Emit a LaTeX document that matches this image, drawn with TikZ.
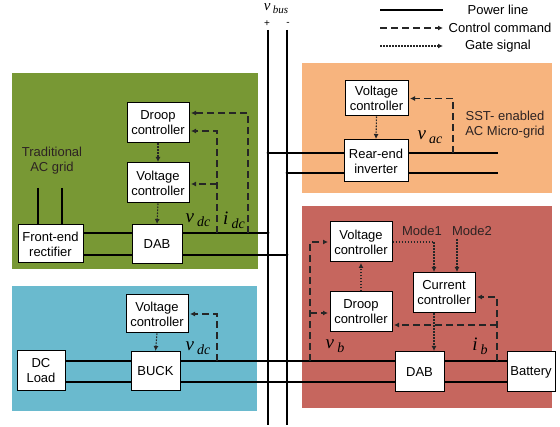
\documentclass[tikz,border=0pt]{standalone}
\usepackage{fontspec}
\setmainfont{Liberation Sans}
\newfontfamily\lserif{Liberation Serif}
\usetikzlibrary{arrows.meta}
\definecolor{pgreen}{RGB}{120,152,52}
\definecolor{porange}{RGB}{247,180,126}
\definecolor{pblue}{RGB}{106,186,206}
\definecolor{pred}{RGB}{198,102,94}
\definecolor{txtdark}{RGB}{45,35,35}
\newcommand{\qlab}[2]{{\lserif\itshape\fontsize{19}{19}\selectfont #1\,\raisebox{-4pt}{\fontsize{14}{14}\selectfont #2}}}
\tikzset{
  box/.style={draw=black, fill=white, line width=1pt, align=center, inner sep=0pt,
    font=\fontsize{13}{15}\selectfont},
  pline/.style={line width=1.1pt},
  ctrl/.style={line width=1.2pt, draw=black!85, dash pattern=on 7pt off 4pt,
    -{Latex[length=5pt,width=5pt]}, shorten >=1.5pt},
  gate/.style={line width=1.1pt, draw=black!85, dash pattern=on 1.6pt off 1.4pt,
    -{Latex[length=5pt,width=5pt]}, shorten >=0.5pt},
  lbl/.style={font=\fontsize{13}{15}\selectfont, text=txtdark, align=center},
  mlbl/.style={inner sep=1pt},
  pm/.style={inner sep=0pt, font=\fontsize{10}{10}\selectfont},
  jdot/.style={circle, fill=black, inner sep=0pt, minimum size=3pt}
}
\begin{document}
\begin{tikzpicture}[x=1pt,y=-1pt]
\useasboundingbox (0,0) rectangle (560,427);
% panels
\fill[pgreen] (12,73) rectangle (258,269);
\fill[pblue] (12,286) rectangle (257,411);
\fill[porange] (302,63) rectangle (552,193);
\fill[pred] (302,206) rectangle (552,408);

% bus
\coordinate (pT) at (268,30);
\coordinate (pB) at (268,425);
\coordinate (mT) at (287,30);
\coordinate (mB) at (287,425);
\draw[pline] (pT) -- (pB);
\draw[pline] (mT) -- (mB);
\node[mlbl] (vbus) at (276,9) {{\lserif\itshape\fontsize{15}{15}\selectfont v\,\raisebox{-3pt}{\fontsize{11}{11}\selectfont bus}}};
\node[pm] (plus) at (267,24) {+};
\node[pm] (minus) at (288,24) {-};

% legend
\coordinate (l1a) at (380,10); \coordinate (l1b) at (443,10);
\coordinate (l2a) at (380,28); \coordinate (l2b) at (443,28);
\coordinate (l3a) at (380,46); \coordinate (l3b) at (443,46);
\draw[pline] (l1a) -- (l1b);
\draw[ctrl, shorten >=0pt] (l2a) -- (l2b);
\draw[gate, shorten >=0pt] (l3a) -- (l3b);
\node[lbl, text=black] (lg1) at (498,10) {Power line};
\node[lbl, text=black] (lg2) at (500,28) {Control command};
\node[lbl, text=black] (lg3) at (498,46) {Gate signal};

% ---------- green panel ----------
\node[box, minimum width=62pt, minimum height=40pt] (droopG) at (158,123) {Droop\\controller};
\node[box, minimum width=62pt, minimum height=40pt] (vcG) at (158,183) {Voltage\\controller};
\node[box, minimum width=50pt, minimum height=39pt] (dabG) at (157,244.5) {DAB};
\node[box, minimum width=65pt, minimum height=38pt] (rect) at (50.5,244) {Front-end\\rectifier};
\node[lbl] (acgrid) at (52,161) {Traditional\\AC grid};
\coordinate (ac1) at (38,188);
\coordinate (ac2) at (62,188);
\draw[pline] (ac1) -- (ac1 |- rect.north);
\draw[pline] (ac2) -- (ac2 |- rect.north);
\coordinate (gP) at (268,233);
\coordinate (gM) at (287,255);
\draw[pline] (rect.east |- gP) -- (dabG.west |- gP);
\draw[pline] (rect.east |- gM) -- (dabG.west |- gM);
\draw[pline] (dabG.east |- gP) -- (gP);
\draw[pline] (dabG.east |- gM) -- (gM);
\node[jdot] (dgP) at (gP) {};
\node[jdot] (dgM) at (gM) {};
\draw[gate] (droopG.south) -- (vcG.north);
\draw[gate] (vcG.south) -- (dabG.north);
\coordinate (idcB) at (248,233);
\coordinate (vdcB) at (217,233);
\coordinate (vdcM) at (217,184);
\draw[ctrl] (idcB) |- ([yshift=10pt]droopG.east);
\draw[ctrl] (vdcB) |- ([yshift=-8pt]droopG.east);
\draw[ctrl] (vdcM) -- (vcG.east |- vdcM);
\node[mlbl] (vdcG) at (198,220) {\qlab{v}{dc}};
\node[mlbl] (idcG) at (234,220) {\qlab{i}{dc}};

% ---------- orange panel ----------
\node[box, minimum width=63pt, minimum height=35pt] (vcO) at (376.5,98.5) {Voltage\\controller};
\node[box, minimum width=64pt, minimum height=42pt] (inv) at (376,161) {Rear-end\\inverter};
\coordinate (oP) at (268,153);
\coordinate (oM) at (287,173);
\coordinate (oPe) at (498,153);
\coordinate (oMe) at (498,173);
\draw[pline] (oP) -- (inv.west |- oP);
\draw[pline] (oM) -- (inv.west |- oM);
\draw[pline] (inv.east |- oP) -- (oPe);
\draw[pline] (inv.east |- oM) -- (oMe);
\node[jdot] (doP) at (oP) {};
\node[jdot] (doM) at (oM) {};
\draw[gate] (vcO.south) -- (inv.north);
\coordinate (vacB) at (453,153);
\draw[ctrl] (vacB) |- (vcO.east);
\node[mlbl] (vac) at (430,137) {\qlab{v}{ac}};
\node[lbl] (sst) at (505,125) {SST- enabled\\AC Micro-grid};

% ---------- blue panel ----------
\node[box, minimum width=62pt, minimum height=38pt] (vcB) at (157,314) {Voltage\\controller};
\node[box, minimum width=49pt, minimum height=39pt] (buck) at (155.5,371.5) {BUCK};
\node[box, minimum width=48pt, minimum height=40pt] (load) at (41,371) {DC\\Load};

% ---------- red panel ----------
\node[box, minimum width=62pt, minimum height=40pt] (vcR) at (361,242) {Voltage\\controller};
\node[box, minimum width=62pt, minimum height=40pt] (droopR) at (361,312) {Droop\\controller};
\node[box, minimum width=62pt, minimum height=40pt] (curR) at (444,293) {Current\\controller};
\node[box, minimum width=49pt, minimum height=40pt] (dabR) at (419.5,372) {DAB};
\node[box, minimum width=48pt, minimum height=40pt] (bat) at (531,372) {Battery};

% shared power lines blue/red
\coordinate (bP) at (268,361);
\coordinate (bM) at (287,382);
\draw[pline] (load.east |- bP) -- (buck.west |- bP);
\draw[pline] (load.east |- bM) -- (buck.west |- bM);
\draw[pline] (buck.east |- bP) -- (dabR.west |- bP);
\draw[pline] (buck.east |- bM) -- (dabR.west |- bM);
\draw[pline] (dabR.east |- bP) -- (bat.west |- bP);
\draw[pline] (dabR.east |- bM) -- (bat.west |- bM);
\node[jdot] (dbP) at (bP) {};
\node[jdot] (dbM) at (bM) {};

% blue controls
\draw[gate] (vcB.south) -- (buck.north);
\coordinate (vdcBB) at (217,361);
\draw[ctrl] (vdcBB) |- (vcB.east);
\node[mlbl] (vdcBl) at (198,348) {\qlab{v}{dc}};

% red controls
\draw[gate] (droopR.north) -- (vcR.south);
\coordinate (gturn) at (434,242);
\draw[gate] (vcR.east) -- (gturn) -- (gturn |- curR.north);
\node[lbl] (mode1) at (422,231) {Mode1};
\node[lbl] (mode2) at (472,231) {Mode2};
\coordinate (m2s) at (457,239);
\draw[gate] (m2s) -- (m2s |- curR.north);
\draw[gate] (curR.south -| gturn) -- (dabR.north -| gturn);
\coordinate (vbB) at (310,361);
\coordinate (vbM) at (310,313);
\draw[ctrl] (vbB) |- (vcR.west);
\draw[ctrl] (vbM) -- (droopR.west |- vbM);
\coordinate (ibB) at (497,361);
\coordinate (ibM) at (497,325);
\draw[ctrl] (ibB) |- ([yshift=-4pt]curR.east);
\draw[ctrl] (ibM) -- (droopR.east |- ibM);
\node[mlbl] (vb) at (335,346) {\qlab{v}{b}};
\node[mlbl] (ib) at (480,346) {\qlab{i}{b}};
\end{tikzpicture}
\end{document}
